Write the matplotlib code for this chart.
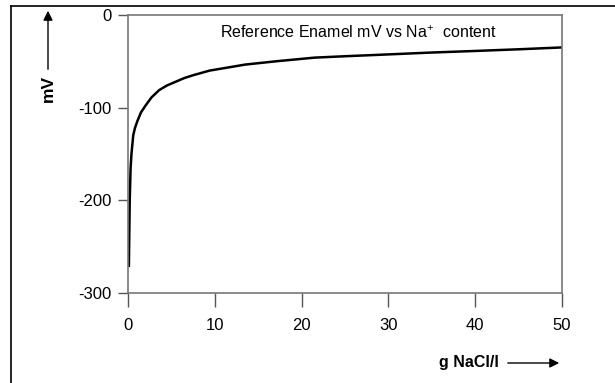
import matplotlib.pyplot as plt
from matplotlib.lines import Line2D

plt.rcParams['font.family'] = ['Liberation Sans', 'DejaVu Sans']
plt.rcParams['mathtext.fontset'] = 'custom'
plt.rcParams['mathtext.rm'] = 'Liberation Sans'
plt.rcParams['axes.unicode_minus'] = False

# values
nacl = [0.1, 0.15, 0.2, 0.3, 0.4, 0.6, 0.8, 1.1, 1.5, 2.0, 2.7, 3.6, 4.5,
        5.5, 6.5, 7.5, 9.4, 11.3, 13.5, 17, 21.5, 25, 29.3, 35, 40, 45, 50]
mv = [-272, -235, -200, -165, -150, -130, -122, -114, -105, -98, -89, -81,
      -76, -72, -68, -65, -60, -57, -53.5, -50, -46, -44.5, -42.8, -40.5,
      -38.8, -37, -35]
xticks = [0, 10, 20, 30, 40, 50]
yticks = [0, -100, -200, -300]

fig = plt.figure(figsize=(6.15, 3.83), dpi=100)
ax = fig.add_axes([128 / 615, 1 - 293 / 383, 434 / 615, 278 / 383])

ax.plot(nacl, mv, color='black', lw=1.8, solid_capstyle='butt')
ax.set_xlim(0, 50)
ax.set_ylim(-300, 0)
ax.set_xticks(xticks)
ax.set_yticks(yticks)
ax.tick_params(direction='out', width=1, color='#555555', labelsize=12)
ax.tick_params(axis='x', length=10, pad=8)
ax.tick_params(axis='y', length=7, pad=5)
for s in ax.spines.values():
    s.set_color('#777777')
    s.set_linewidth(1.2)

ax.text(0.53, 0.935, 'Reference Enamel mV vs Na$^{+}$  content',
        transform=ax.transAxes, ha='center', va='center', fontsize=11.5)

# outer frame (left and top edges only)
fig.add_artist(Line2D([11 / 615, 11 / 615], [0, 1 - 6 / 383],
                      transform=fig.transFigure, color='black', lw=1.2))
fig.add_artist(Line2D([11 / 615, 1], [1 - 6 / 383, 1 - 6 / 383],
                      transform=fig.transFigure, color='black', lw=1.2))

# y label with arrow
fig.text(48 / 615, 1 - 88 / 383, 'mV', rotation=90, ha='center', va='center',
         fontsize=12.5, fontweight='bold')
plt.annotate('', xy=(48 / 615, 1 - 8 / 383),
             xytext=(48 / 615, 1 - 72 / 383),
             xycoords='figure fraction',
             arrowprops=dict(arrowstyle='-|>', color='black',
                             lw=1, mutation_scale=14))

# x label with arrow
fig.text(469 / 615, 1 - 363 / 383, 'g NaCl/l', ha='center', va='center',
         fontsize=11.5, fontweight='bold')
plt.annotate('', xy=(562 / 615, 1 - 363 / 383),
             xytext=(505 / 615, 1 - 363 / 383),
             xycoords='figure fraction',
             arrowprops=dict(arrowstyle='-|>', color='black',
                             lw=1, mutation_scale=14))

fig.savefig('out.png', dpi=100)
